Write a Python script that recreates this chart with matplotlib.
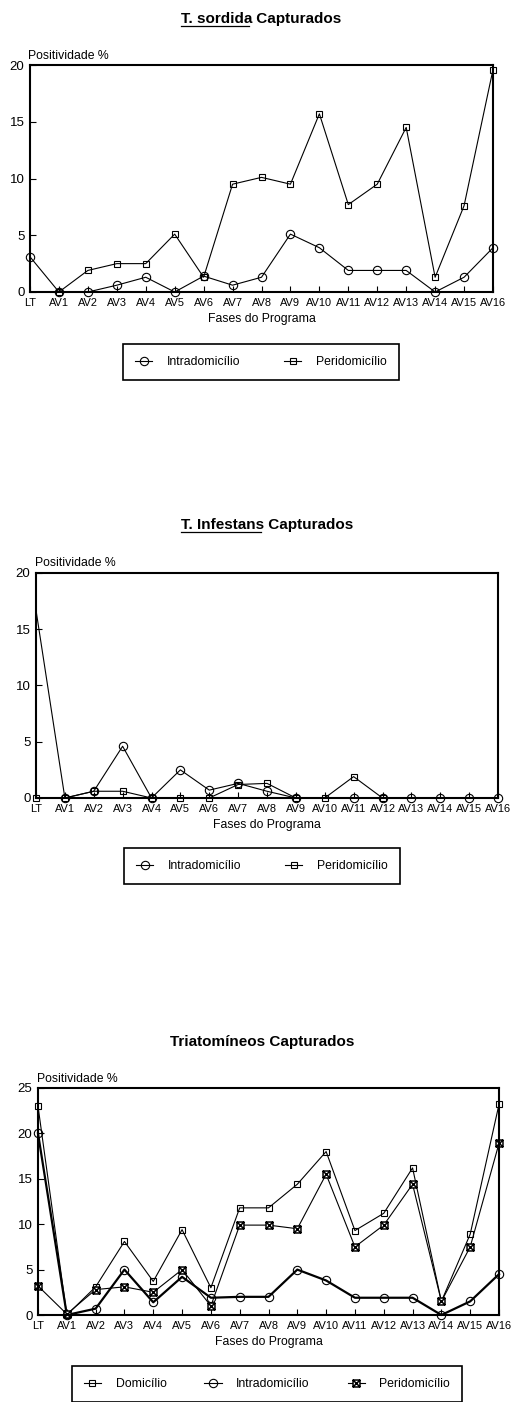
import matplotlib.pyplot as plt
from matplotlib.path import Path
from matplotlib.lines import Line2D
import numpy as np

plt.rcParams['font.family'] = ['Liberation Sans', 'DejaVu Sans']

fases = ['LT', 'AV1', 'AV2', 'AV3', 'AV4', 'AV5', 'AV6', 'AV7', 'AV8',
         'AV9', 'AV10', 'AV11', 'AV12', 'AV13', 'AV14', 'AV15', 'AV16']
nan = np.nan

# T. sordida
sord_intra = [3.1, 0, 0, 0.6, 1.3, 0, 1.4, 0.6, 1.3, 5.1, 3.9, 1.9, 1.9, 1.9, 0, 1.3, 3.9]
sord_peri = [nan, 0, 1.9, 2.5, 2.5, 5.1, 1.3, 9.5, 10.1, 9.5, 15.7, 7.7, 9.5, 14.5, 1.3, 7.6, 19.6]

# T. infestans
inf_intra = [16.7, 0, 0.6, 4.6, 0, 2.5, 0.7, 1.3, 0.6, 0, nan, 0, 0, 0, 0, 0, 0]
inf_peri = [0, 0, 0.6, 0.6, 0, 0, 0, 1.2, 1.3, 0, 0, 1.9, 0, nan, nan, nan, nan]

# Triatomineos
tri_dom = [23.0, 0, 3.1, 8.1, 3.7, 9.4, 3.0, 11.8, 11.8, 14.4, 18.0, 9.3, 11.2, 16.2, 1.5, 8.9, 23.2]
tri_intra = [20.0, 0, 0.7, 5.0, 1.4, 4.2, 1.9, 2.0, 2.0, 5.0, 3.8, 1.9, 1.9, 1.9, 0, 1.5, 4.5]
tri_peri = [3.2, 0.1, 2.8, 3.1, 2.5, 5.0, 1.0, 9.9, 9.9, 9.5, 15.5, 7.5, 9.9, 14.4, 1.5, 7.5, 18.9]

W, H = 512, 1402
fig = plt.figure(figsize=(W / 100, H / 100), dpi=100)

# square with an X inside
xbox = Path([(-1, -1), (1, -1), (1, 1), (-1, 1), (-1, -1),
             (-1, -1), (1, 1), (-1, 1), (1, -1)],
            [Path.MOVETO, Path.LINETO, Path.LINETO, Path.LINETO, Path.CLOSEPOLY,
             Path.MOVETO, Path.LINETO, Path.MOVETO, Path.LINETO])

x = np.arange(len(fases))


def make_axes(l, r, t, b, ymax):
    ax = fig.add_axes([l / W, 1 - b / H, (r - l) / W, (b - t) / H])
    ax.set_xlim(0, 16)
    ax.set_ylim(0, ymax)
    ax.set_xticks(x)
    ax.set_xticklabels(fases, fontsize=7.9)
    ax.set_yticks(np.arange(0, ymax + 1, 5))
    ax.tick_params(axis='y', labelsize=9.5, direction='in', length=4, pad=4)
    ax.tick_params(axis='x', direction='in', length=4, pad=4)
    for s in ax.spines.values():
        s.set_linewidth(1.5)
    ax.set_xlabel('Fases do Programa', fontsize=8.8, labelpad=4)
    return ax


def title(cx, cy, under, rest):
    t1 = fig.text(0, 1 - cy / H, under, fontsize=11, fontweight='bold', va='center', ha='left')
    t2 = fig.text(0, 1 - cy / H, rest, fontsize=11, fontweight='bold', va='center', ha='left')
    fig.canvas.draw()
    r = fig.canvas.get_renderer()
    w1 = t1.get_window_extent(r).width if under else 0
    w2 = t2.get_window_extent(r).width
    x0 = cx - (w1 + w2) / 2
    t1.set_x(x0 / W)
    t2.set_x((x0 + w1) / W)
    if under:
        bb = t1.get_window_extent(r)
        yl = (H - cy - 7) / H
        fig.add_artist(Line2D([x0 / W, (x0 + bb.width - 3) / W], [yl, yl],
                              color='black', lw=0.9, transform=fig.transFigure))


kw = dict(color='black', lw=0.8, mfc='none', mec='black', mew=0.8, clip_on=False)
leg_kw = dict(loc='center', bbox_transform=fig.transFigure, ncol=3, fontsize=8.8,
              frameon=True, fancybox=False, edgecolor='black', framealpha=1,
              handlelength=1.4, handletextpad=1.2, columnspacing=3.6, borderpad=0.95)

# panel 1
ax1 = make_axes(30, 493, 65, 292, 20)
ax1.plot(x, sord_intra, marker='o', ms=6, label='Intradomicílio', **kw)
ax1.plot(x, sord_peri, marker='s', ms=5, label='Peridomicílio', **kw)
fig.text(28 / W, 1 - 56 / H, 'Positividade %', fontsize=8.8, va='center')
lg = ax1.legend(bbox_to_anchor=(261 / W, 1 - 362 / H), **leg_kw)
lg.get_frame().set_linewidth(1.2)
title(261, 19, 'T. sordida', ' Capturados')

# panel 2
ax2 = make_axes(36, 498, 573, 798, 20)
ax2.plot(x, inf_intra, marker='o', ms=6, markevery=list(range(1, 17)), label='Intradomicílio', **kw)
ax2.plot(x, inf_peri, marker='s', ms=5, label='Peridomicílio', **kw)
fig.text(35 / W, 1 - 563 / H, 'Positividade %', fontsize=8.8, va='center')
lg = ax2.legend(bbox_to_anchor=(262 / W, 1 - 866 / H), **leg_kw)
lg.get_frame().set_linewidth(1.2)
title(267, 525, 'T. Infestans', ' Capturados')

# panel 3
ax3 = make_axes(38, 499, 1088, 1315, 25)
ax3.plot(x, tri_dom, marker='s', ms=5, label='Domicílio', **kw)
kw3 = dict(kw)
kw3['lw'] = 1.6
ax3.plot(x, tri_intra, marker='o', ms=6, label='Intradomicílio', **kw3)
kw4 = dict(kw)
kw4['mfc'] = 'white'
kw4['mew'] = 1.1
ax3.plot(x, tri_peri, marker=xbox, ms=5, label='Peridomicílio', **kw4)
fig.text(37 / W, 1 - 1079 / H, 'Positividade %', fontsize=8.8, va='center')
leg3 = dict(leg_kw)
leg3['columnspacing'] = 3.1
lg = ax3.legend(bbox_to_anchor=(267 / W, 1 - 1384 / H), **leg3)
lg.get_frame().set_linewidth(1.2)
lg.get_lines()[1].set_linewidth(0.8)
title(262, 1042, '', 'Triatomíneos Capturados')

fig.savefig('out.png', dpi=100)
